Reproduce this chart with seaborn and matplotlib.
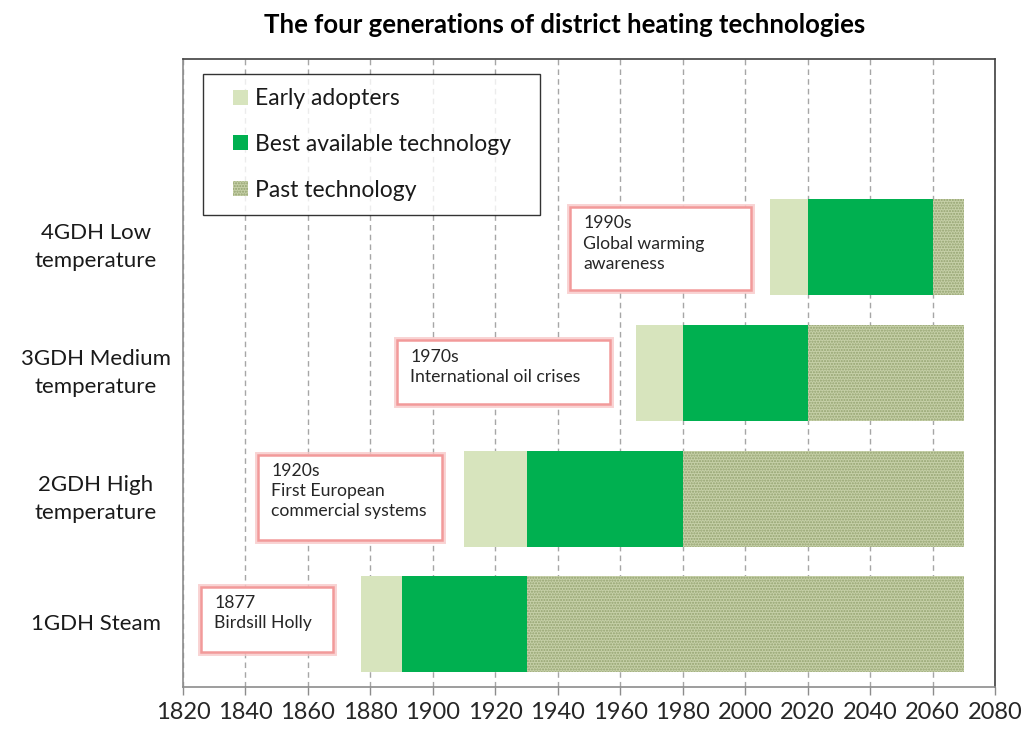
import numpy as np
import pandas as pd
import seaborn as sns
import matplotlib
matplotlib.use("Agg")
import matplotlib.pyplot as plt
from matplotlib.patches import Patch, Rectangle
from matplotlib.legend_handler import HandlerPatch

# ---------------- data ----------------
generations = ["4GDH Low\ntemperature", "3GDH Medium\ntemperature",
               "2GDH High\ntemperature", "1GDH Steam"]
early_start = [2008, 1965, 1910, 1877]
best_start = [2020, 1980, 1930, 1890]
past_start = [2060, 2020, 1980, 1930]
end_year = [2070, 2070, 2070, 2070]
phases = ["Early adopters", "Best available technology", "Past technology"]
x_ticks = list(range(1820, 2081, 20))

notes = ["1990s\nGlobal warming\nawareness",
         "1970s\nInternational oil crises",
         "1920s\nFirst European\ncommercial systems",
         "1877\nBirdsill Holly"]

# ---------------- layout / style ----------------
sns.set_theme(style="white")
plt.rcParams["font.family"] = ["Lato", "DejaVu Sans"]
plt.rcParams["hatch.linewidth"] = 1.0

rows = []
for g, e, b, p, end in zip(generations, early_start, best_start, past_start, end_year):
    rows.append(dict(gen=g, phase=phases[0], start=e, dur=b - e))
    rows.append(dict(gen=g, phase=phases[1], start=b, dur=p - b))
    rows.append(dict(gen=g, phase=phases[2], start=p, dur=end - p))
df = pd.DataFrame(rows)

styles = {
    phases[0]: dict(color="#d7e4bd", edgecolor="none", hatch=None),
    phases[1]: dict(color="#00b050", edgecolor="none", hatch=None),
    phases[2]: dict(color="#c6d0a8", edgecolor="#93a26f", hatch="......"),
}

fig = plt.figure(figsize=(10.22, 7.29), dpi=100)
ax = fig.add_axes([183 / 1022, 42 / 729, 812 / 1022, 628 / 729])

for ph in phases:
    sub = df[df["phase"] == ph].set_index("gen").loc[generations].reset_index()
    st = styles[ph]
    sns.barplot(data=sub, x="dur", y="gen", order=generations, orient="y",
                left=sub["start"].values, width=0.765, errorbar=None,
                color=st["color"], saturation=1, ax=ax,
                edgecolor=st["edgecolor"], hatch=st["hatch"], linewidth=0, zorder=3)

ax.set_xlim(1820, 2080)
ax.set_ylim(3.5, -1.5)
ax.set_xticks(x_ticks)
ax.set_xticklabels([str(t) for t in x_ticks], fontsize=17)
ax.set_xlabel("")
ax.set_ylabel("")
ax.tick_params(axis="x", bottom=True, length=6, width=1, color="#8c8c8c", pad=5)
ax.tick_params(axis="y", left=False, pad=0)
ax.set_yticks(range(len(generations)))
ax.set_yticklabels(generations, fontsize=16, ha="center", va="center",
                   multialignment="center", color="#1a1a1a", linespacing=1.5)
for lab in ax.get_yticklabels():
    lab.set_x(-0.097)

ax.xaxis.grid(True, color="#a6a6a6", linestyle=(0, (4, 3)), linewidth=1)
ax.yaxis.grid(False)
ax.set_axisbelow(True)
for side in ["top", "right"]:
    ax.spines[side].set_color("#404040")
    ax.spines[side].set_linewidth(1.2)
for side in ["left", "bottom"]:
    ax.spines[side].set_color("#8c8c8c")
    ax.spines[side].set_linewidth(1.2)

# annotation boxes (x0, x1 in years; y0, y1 in category units)
note_boxes = [(1944.0, 2002.0, -0.32, 0.34),
              (1888.6, 1956.8, 0.74, 1.25),
              (1844.0, 1903.0, 1.65, 2.33),
              (1825.8, 1868.1, 2.70, 3.22)]
for txt, (x0, x1, y0, y1) in zip(notes, note_boxes):
    glow = Rectangle((x0, y0), x1 - x0, y1 - y0, facecolor="none",
                     edgecolor="#f8c8c8", linewidth=5, zorder=4, alpha=0.8)
    ax.add_patch(glow)
    box = Rectangle((x0, y0), x1 - x0, y1 - y0, facecolor="white",
                    edgecolor="#f29a9a", linewidth=1.8, zorder=5)
    ax.add_patch(box)
    ax.text(x0 + 4.2, y0 + 0.065, txt, fontsize=12.7, va="top", ha="left",
            color="#262626", linespacing=1.33, zorder=6)


def square_handle(legend, orig_handle, xdescent, ydescent, width, height, fontsize):
    s = height
    return Rectangle((width - s - xdescent, -ydescent), s, s)


handles = [Patch(facecolor=styles[p]["color"],
                 edgecolor=styles[p]["edgecolor"] if styles[p]["hatch"] else styles[p]["color"],
                 hatch=styles[p]["hatch"], linewidth=0, label=p) for p in phases]
leg = ax.legend(handles=handles, loc="upper left",
                bbox_to_anchor=(20 / 812, 613 / 628, 337 / 812, 0.0), mode="expand",
                handler_map={Patch: HandlerPatch(patch_func=square_handle)},
                fontsize=16.5, frameon=True, fancybox=False, edgecolor="black",
                handlelength=1.35, handleheight=0.62, handletextpad=0.28,
                labelspacing=1.08, borderpad=0.62, borderaxespad=0)
leg.get_frame().set_linewidth(1.0)
leg.set_zorder(7)
for t in leg.get_texts():
    t.set_color("#1a1a1a")

fig.text(565 / 1022, 1 - 25 / 729, "The four generations of district heating technologies",
         ha="center", va="center", fontsize=18.5, fontweight="bold", color="black")

fig.savefig("out.png", dpi=100)
